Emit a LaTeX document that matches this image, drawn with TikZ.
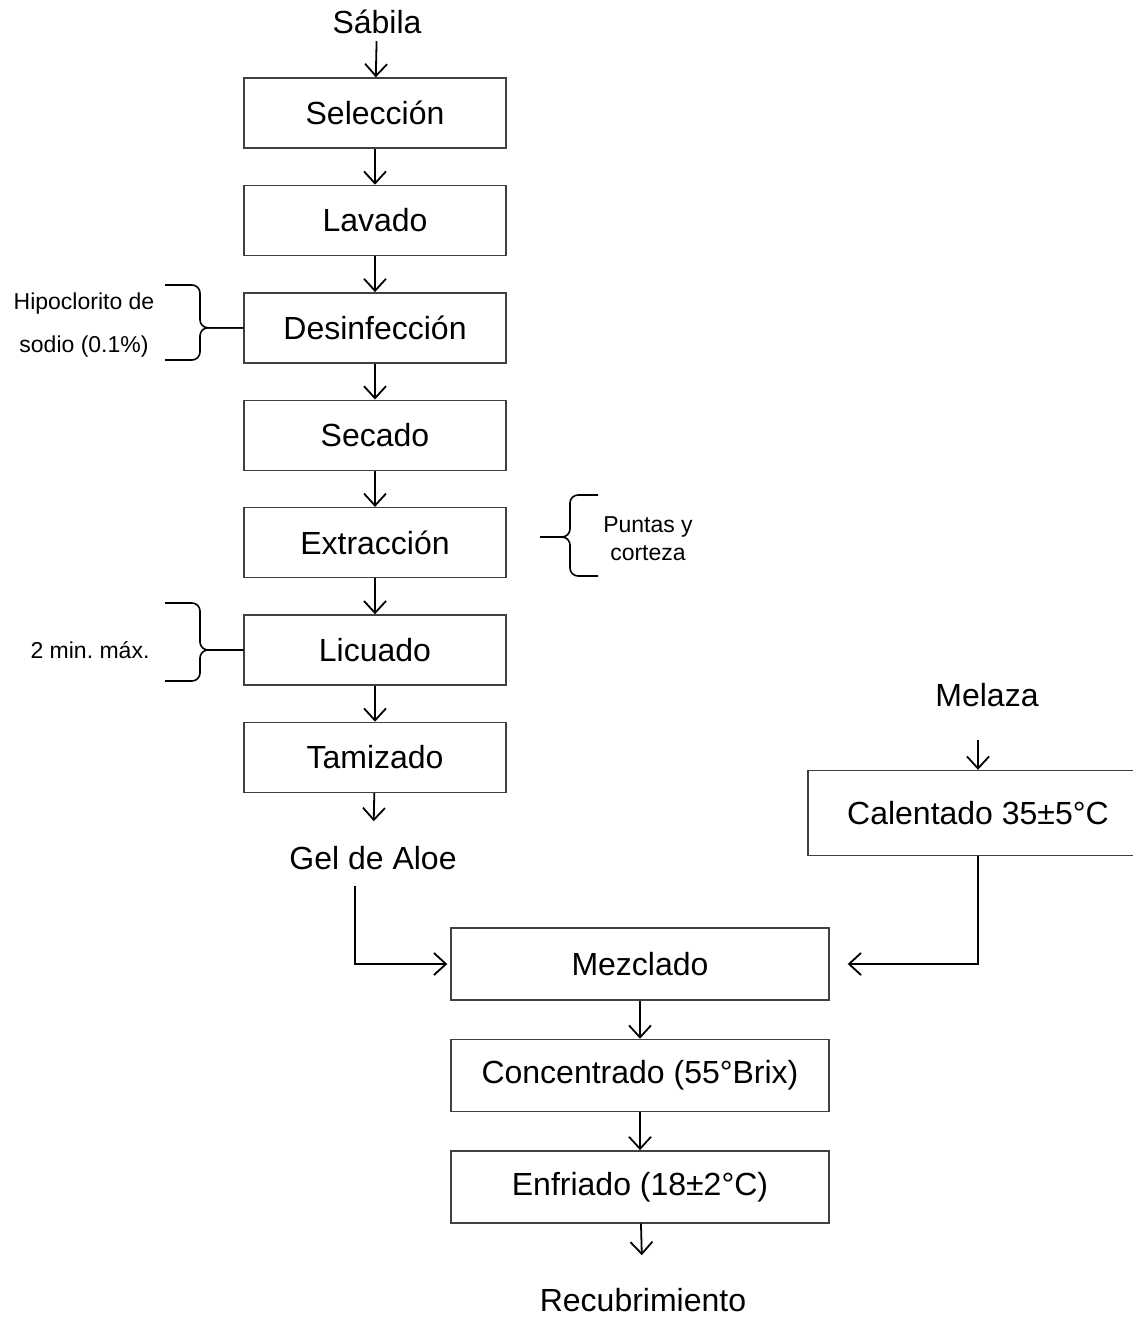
\documentclass[tikz,border=0pt]{standalone}
\usepackage{fontspec}
\setmainfont{Liberation Sans}
\usetikzlibrary{positioning,arrows.meta,calc}
\frenchspacing

\begin{document}
\begin{tikzpicture}[
  x=0.5pt, y=-0.5pt,
  node distance=18pt,
  box/.style={rectangle, draw=black!75, line width=0.7pt, align=center, font=\fontsize{16}{19}\selectfont, minimum width=131pt, minimum height=35pt},
  label/.style={align=center, font=\fontsize{16}{19}\selectfont},
  note/.style={align=center, font=\fontsize{11.5}{14}\selectfont},
  arrow/.style={-{Straight Barb[length=6pt,width=11pt]}, line width=0.9pt},
  brace/.style={line width=0.8pt, rounded corners=4pt}
]
  \clip (0,0) rectangle (1133,1319);

  % main line
  \node[label] (sabila) at (377,22) {Sábila};
  \node[box] (seleccion) at (375,113) {Selección};
  \node[box, below=of seleccion] (lavado) {Lavado};
  \node[box, below=of lavado] (desinfeccion) {Desinfección};
  \node[box, below=of desinfeccion] (secado) {Secado};
  \node[box, below=of secado] (extraccion) {Extracción};
  \node[box, below=of extraccion] (licuado) {Licuado};
  \node[box, below=of licuado] (tamizado) {Tamizado};
  \node[label] (gel) at (373,858) {Gel de Aloe};

  % side notes
  \node[note, font=\fontsize{11.5}{21.5}\selectfont] (hipoclorito) at (84,325) {Hipoclorito de\\sodio (0.1\%)};
  \node[note] (puntas) at (648,539) {Puntas y\\corteza};
  \node[note] (minutos) at (90,650) {2 min. máx.};

  \draw[brace] (165,285) -- (200,285) -- (200,0 |- desinfeccion.west) -- (desinfeccion.west);
  \draw[brace] (165,360) -- (200,360) -- (200,0 |- desinfeccion.west) -- (desinfeccion.west);
  \draw[brace] (598,495) -- (570,495) -- (570,537) -- (540,537);
  \draw[brace] (598,576) -- (570,576) -- (570,537) -- (540,537);
  \draw[brace] (165,603) -- (200,603) -- (200,0 |- licuado.west) -- (licuado.west);
  \draw[brace] (165,681) -- (200,681) -- (200,0 |- licuado.west) -- (licuado.west);

  % melaza
  \node[label] (melaza) at (987,695) {Melaza};
  \node[box, minimum width=170pt, minimum height=42.5pt] (calentado) at (978,813) {Calentado 35±5°C};

  % mixing
  \node[box, minimum width=189pt, minimum height=36pt] (mezclado) at (640,964) {Mezclado};
  \node[box, minimum width=189pt, minimum height=36pt, below=19pt of mezclado] (concentrado) {Concentrado (55°Brix)};
  \node[box, minimum width=189pt, minimum height=36pt, below=19pt of concentrado] (enfriado) {Enfriado (18±2°C)};
  \node[label] (recubrimiento) at (643,1300) {Recubrimiento};

  \draw[arrow] (sabila) -- (seleccion);
  \draw[arrow] (seleccion) -- (lavado);
  \draw[arrow] (lavado) -- (desinfeccion);
  \draw[arrow] (desinfeccion) -- (secado);
  \draw[arrow] (secado) -- (extraccion);
  \draw[arrow] (extraccion) -- (licuado);
  \draw[arrow] (licuado) -- (tamizado);
  \draw[arrow, shorten >=9pt] (tamizado) -- (gel);
  \draw[arrow, shorten <=13pt] (melaza.south -| calentado.north) -- (calentado.north);
  \draw[arrow, shorten >=1.5pt] ($(gel.south)+(-18,9)$) |- (mezclado.west);
  \draw[arrow, shorten >=9pt] (calentado.south) |- (mezclado.east);
  \draw[arrow] (mezclado) -- (concentrado);
  \draw[arrow] (concentrado) -- (enfriado);
  \draw[arrow, shorten >=13pt] (enfriado) -- (recubrimiento);
\end{tikzpicture}
\end{document}
